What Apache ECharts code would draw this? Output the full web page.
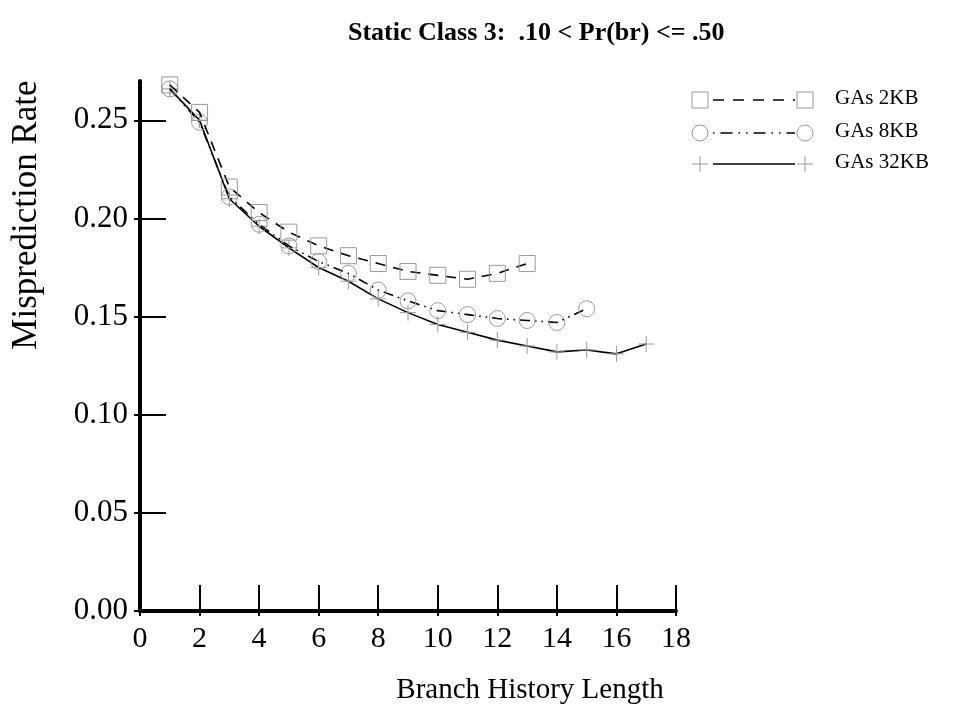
<!DOCTYPE html>
<html>
<head>
<meta charset="utf-8">
<script src="https://cdn.jsdelivr.net/npm/echarts@6/dist/echarts.min.js"></script>
<style>
  html, body { margin: 0; padding: 0; background: #fff; }
  #chart { width: 956px; height: 704px; }
</style>
</head>
<body>
<div id="chart"></div>
<script>
// branch history length (x) for each configuration
const historyLen = [1, 2, 3, 4, 5, 6, 7, 8, 9, 10, 11, 12, 13, 14, 15, 16, 17];

// misprediction rates
const gas2kb = [0.268, 0.254, 0.216, 0.203, 0.193, 0.186, 0.181, 0.177, 0.173, 0.171, 0.169, 0.172, 0.177];
const gas8kb = [0.266, 0.249, 0.211, 0.197, 0.186, 0.178, 0.172, 0.1635, 0.158, 0.153, 0.151, 0.149, 0.148, 0.147, 0.154];
const gas32kb = [0.266, 0.250, 0.210, 0.196, 0.185, 0.175, 0.168, 0.159, 0.152, 0.146, 0.142, 0.138, 0.135, 0.132, 0.133, 0.131, 0.136];

const seriesNames = ['GAs 2KB', 'GAs 8KB', 'GAs 32KB'];
const yTicks = [0, 0.05, 0.10, 0.15, 0.20, 0.25];

const FONT = '"Liberation Serif", "DejaVu Serif", serif';
const MARK = '#9a9a9a';
const PLUS = 'path://M0,8L16,8M8,0L8,16';

function pairs(vals) {
  return vals.map(function (v, i) { return [historyLen[i], v]; });
}

const lineStyles = [
  { type: [10, 8], width: 1.6, color: '#000' },
  { type: [10, 5, 1.5, 5, 1.5, 5], width: 1.6, color: '#000' },
  { type: 'solid', width: 1.6, color: '#000' }
];
const symbols = ['rect', 'circle', PLUS];

// legend drawn by hand: marker - line - marker, then the label
function legendRow(i, y) {
  const els = [];
  [700, 805].forEach(function (cx) {
    if (i === 0) {
      els.push({ type: 'rect', shape: { x: cx - 8, y: y - 8, width: 16, height: 16 },
        style: { fill: 'none', stroke: MARK, lineWidth: 1 } });
    } else if (i === 1) {
      els.push({ type: 'circle', shape: { cx: cx, cy: y, r: 8 },
        style: { fill: 'none', stroke: MARK, lineWidth: 1 } });
    } else {
      els.push({ type: 'line', shape: { x1: cx - 8, y1: y, x2: cx + 8, y2: y }, style: { stroke: MARK, lineWidth: 1 } });
      els.push({ type: 'line', shape: { x1: cx, y1: y - 8, x2: cx, y2: y + 8 }, style: { stroke: MARK, lineWidth: 1 } });
    }
  });
  const dash = i === 0 ? [11, 9] : (i === 1 ? [1.5, 6, 12, 6, 1.5, 6] : null);
  els.push({ type: 'line', shape: { x1: 713, y1: y, x2: 795, y2: y },
    style: { stroke: '#000', lineWidth: 1.6, lineDash: dash } });
  els.push({ type: 'text', left: 835, top: y - 12,
    style: { text: seriesNames[i], font: '21px ' + FONT, fill: '#000' } });
  return els;
}

const chart = echarts.init(document.getElementById('chart'), null, { renderer: 'canvas' });

const option = {
  backgroundColor: '#fff',
  animation: false,
  title: {
    text: 'Static Class 3:  .10 < Pr(br) <= .50',
    left: 343,
    top: 15,
    textStyle: { fontFamily: FONT, fontSize: 26, fontWeight: 'bold', color: '#000' }
  },
  grid: { left: 140, right: 280, top: 81, bottom: 93, containLabel: false },
  xAxis: [{
    type: 'value', min: 0, max: 18, interval: 2,
    axisLine: { show: true, onZero: false, lineStyle: { color: '#000', width: 4 } },
    axisTick: { show: true, inside: true, length: 26, lineStyle: { color: '#000', width: 2 } },
    axisLabel: { fontFamily: FONT, fontSize: 30, color: '#000', margin: 13 },
    splitLine: { show: false }
  }, {
    // short outside tick stubs
    type: 'value', min: 0, max: 18, interval: 2, position: 'bottom',
    axisLine: { show: false },
    axisTick: { show: true, inside: false, length: 5, lineStyle: { color: '#000', width: 2 } },
    axisLabel: { show: false },
    splitLine: { show: false }
  }],
  yAxis: [{
    type: 'value', min: 0, max: 0.27,
    axisLine: { show: true, onZero: false, lineStyle: { color: '#000', width: 4 } },
    axisTick: { show: true, inside: true, length: 26, customValues: yTicks, lineStyle: { color: '#000', width: 2 } },
    axisLabel: { customValues: yTicks, fontFamily: FONT, fontSize: 31, color: '#000', margin: 12,
      formatter: function (v) { return v.toFixed(2); } },
    splitLine: { show: false }
  }, {
    type: 'value', min: 0, max: 0.27, position: 'left',
    axisLine: { show: false },
    axisTick: { show: true, inside: false, length: 6, customValues: yTicks, lineStyle: { color: '#000', width: 2 } },
    axisLabel: { show: false },
    splitLine: { show: false }
  }],
  series: [gas2kb, gas8kb, gas32kb].map(function (vals, i) {
    return {
      name: seriesNames[i],
      type: 'line',
      data: pairs(vals),
      symbol: symbols[i],
      symbolSize: 16,
      showAllSymbol: true,
      clip: false,
      lineStyle: lineStyles[i],
      itemStyle: { color: 'transparent', borderColor: MARK, borderWidth: 1 },
      z: 3 - i
    };
  }),
  graphic: [
    { type: 'text', x: 27, y: 215, rotation: Math.PI / 2,
      style: { text: 'Misprediction Rate', font: '35px ' + FONT, fill: '#000', textAlign: 'center', textVerticalAlign: 'middle' } },
    { type: 'text', x: 530, y: 690,
      style: { text: 'Branch History Length', font: '29px ' + FONT, fill: '#000', textAlign: 'center', textVerticalAlign: 'middle' } }
  ].concat(legendRow(0, 100), legendRow(1, 133), legendRow(2, 164))
};

chart.setOption(option);
</script>
</body>
</html>
